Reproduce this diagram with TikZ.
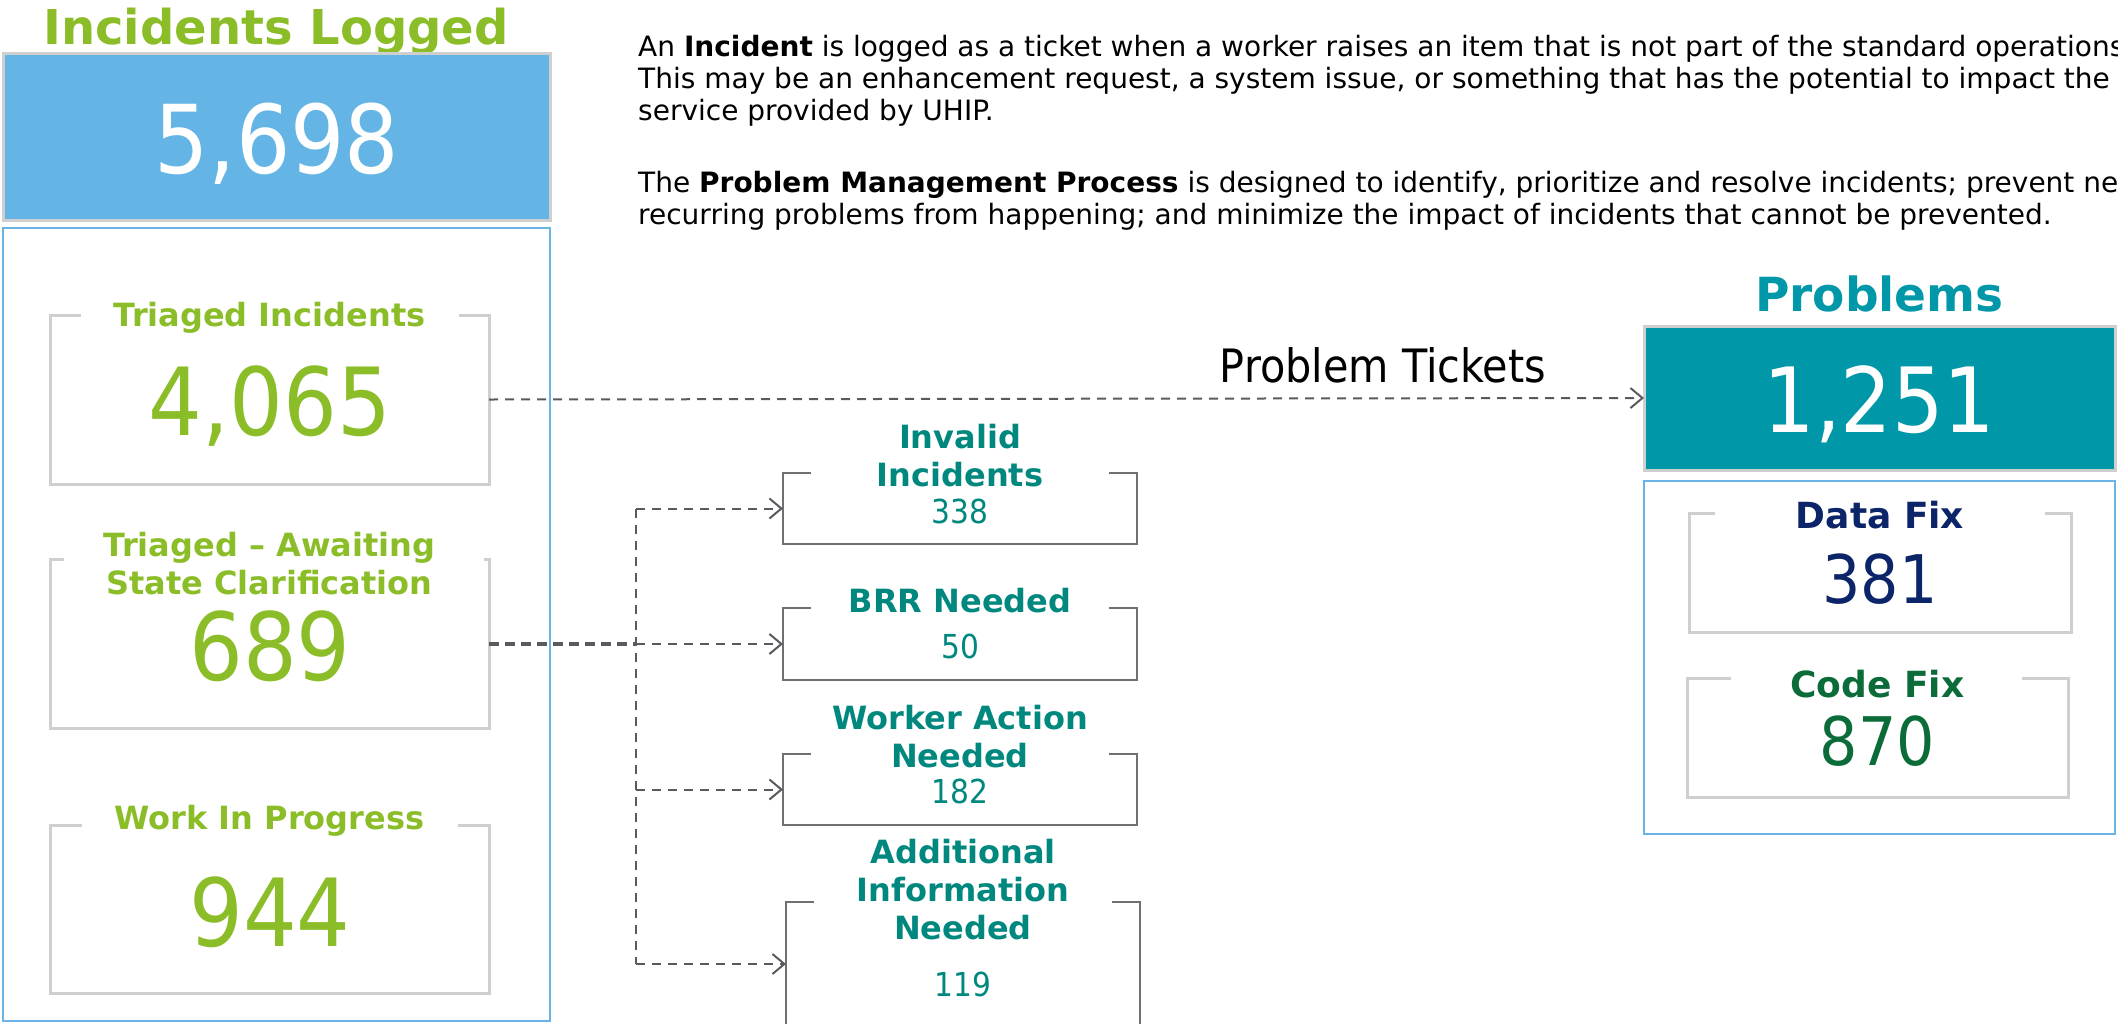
\documentclass[tikz,border=0pt]{standalone}
\usepackage{fontspec}
\setmainfont{DejaVu Sans}
\newfontfamily\numfont{DejaVu Sans}[FakeStretch=0.9]
\usepackage{tikz}
\usetikzlibrary{arrows.meta, positioning, calc}

\definecolor{lgreen}{HTML}{8BBD28}
\definecolor{skyfill}{HTML}{64B5E5}
\definecolor{skyline}{HTML}{6AB3E6}
\definecolor{bracketgray}{HTML}{CFCFCF}
\definecolor{boxgray}{HTML}{707070}
\definecolor{dashgray}{HTML}{595960}
\definecolor{tealtext}{HTML}{00877E}
\definecolor{tealfill}{HTML}{0097A8}
\definecolor{navy}{HTML}{0C2468}
\definecolor{fixgreen}{HTML}{0B6B39}

\newcommand{\fsz}[2]{\fontsize{#1}{#2}\selectfont}
% open-topped box: node, left gap, right gap, line style
\newcommand{\bracketbox}[4]{%
  \draw[#4] ($(#1.north west)+(#2,0)$) -- (#1.north west) -- (#1.south west)
    -- (#1.south east) -- (#1.north east) -- ($(#1.north east)+(-#3,0)$);}

\begin{document}
\begin{tikzpicture}[x=1pt,y=-1pt,
    cell/.style={inner sep=0, outer sep=0, minimum width=#1},
    greenhead/.style={text=lgreen, font=\bfseries\fsz{32}{38}, align=center, anchor=base},
    bignum/.style={text=lgreen, font=\numfont\fsz{94}{94}, inner sep=0, anchor=base},
    tealhead/.style={text=tealtext, font=\bfseries\fsz{32}{38}, align=center, anchor=base},
    smallnum/.style={text=tealtext, font=\numfont\fsz{33}{33}, inner sep=0, anchor=base},
    para/.style={font=\fsz{28}{32}, anchor=base west, inner sep=0},
    conn/.style={draw=dashgray, line width=2, dash pattern=on 9pt off 7pt,
      -{Straight Barb[length=12pt,width=20pt]}}]
\useasboundingbox (0,0) rectangle (2118,1023);

%% incidents logged
\node[text=lgreen, font=\bfseries\fsz{48}{56}, anchor=base] (logtitle) at (276,44) {Incidents Logged};
\node[cell=547, minimum height=167, fill=skyfill, draw=bracketgray, line width=3] (logged) at (276.5,136.5) {};
\node[text=white, font=\numfont\fsz{95}{95}, inner sep=0, anchor=base] (loggednum) at (277,173) {5,698};
\node[cell=547, minimum height=793, draw=skyline, line width=2] (incframe) at (276.5,624.5) {};

%% triaged boxes
\node[cell=439, minimum height=169] (ti) at (269.5,399.5) {};
\node[cell=439, minimum height=169] (ta) at (269.5,644) {};
\node[cell=439, minimum height=168] (wip) at (269.5,909) {};
\bracketbox{ti}{31}{30}{bracketgray, line width=3}
\bracketbox{ta}{14}{5}{bracketgray, line width=3}
\bracketbox{wip}{32}{31}{bracketgray, line width=3}
\node[greenhead] (tihead) at (269.5,326) {Triaged Incidents};
\node[greenhead] (tahead) at (269.5,594) {Triaged -- Awaiting\\State Clarification};
\node[greenhead] (wiphead) at (269.5,829) {Work In Progress};
\node[bignum] (tinum) at (270,435) {4,065};
\node[bignum] (tanum) at (270,680) {689};
\node[bignum] (wipnum) at (270,946) {944};

%% awaiting clarification split
\node[cell=354, minimum height=71] (inv) at (960,508.5) {};
\node[cell=354, minimum height=72] (brr) at (960,644) {};
\node[cell=354, minimum height=71] (wan) at (960,789.5) {};
\node[cell=354, minimum height=124] (add) at (963,964) {};
\foreach \b in {inv, brr, wan, add}
  \bracketbox{\b}{28}{28}{boxgray, line width=2.5};
\node[tealhead] (invhead) at (960,486) {Invalid\\Incidents};
\node[tealhead] (brrhead) at (960,612) {BRR Needed};
\node[tealhead] (wanhead) at (960,767) {Worker Action\\Needed};
\node[tealhead] (addhead) at (963,939) {Additional\\Information\\Needed};
\node[smallnum] (invnum) at (960,523) {338};
\node[smallnum] (brrnum) at (960,658) {50};
\node[smallnum] (wannum) at (960,803) {182};
\node[smallnum] (addnum) at (963,996) {119};

\coordinate (split) at (636,644);
\draw[conn, line width=4.5, dash pattern=on 10pt off 6pt, -] (ta.east) -- (split);
\draw[conn, -] (split |- inv.west) -- (split |- add.west);
\draw[conn] (split) -- (brr.west);
\foreach \b in {inv, wan, add}
  \draw[conn] (split |- \b.west) -- (\b.west);

%% problems
\node[text=tealfill, font=\bfseries\fsz{47}{56}, anchor=base] (probtitle) at (1879.5,311) {Problems};
\node[cell=471, minimum height=144, fill=tealfill, draw=bracketgray, line width=3] (prob) at (1879.5,398) {};
\node[text=white, font=\numfont\fsz{90}{90}, inner sep=0, anchor=base] (probnum) at (1879.5,432) {1,251};
\node[cell=471, minimum height=353, draw=skyline, line width=2] (probframe) at (1879.5,657.5) {};
\node[cell=382, minimum height=119] (dfix) at (1880,572.5) {};
\node[cell=381, minimum height=119] (cfix) at (1877.5,737.5) {};
\bracketbox{dfix}{26}{26}{bracketgray, line width=3}
\bracketbox{cfix}{44}{46}{bracketgray, line width=3}
\node[text=navy, font=\bfseries\fsz{36}{42}, anchor=base] (dfixhead) at (1880,528) {Data Fix};
\node[text=fixgreen, font=\bfseries\fsz{36}{42}, anchor=base] (cfixhead) at (1877.5,697) {Code Fix};
\node[text=navy, font=\numfont\fsz{67}{67}, inner sep=0, anchor=base] (dfixnum) at (1880,603) {381};
\node[text=fixgreen, font=\numfont\fsz{67}{67}, inner sep=0, anchor=base] (cfixnum) at (1877.5,765) {870};

\draw[conn] (ti.east) -- node[pos=.774, anchor=base, yshift=16pt, font=\numfont\fsz{46}{50}, inner sep=0] (ptlabel) {Problem Tickets} (prob.west);

%% explanation text
\node[para] (p1) at (638,56) {An \textbf{Incident} is logged as a ticket when a worker raises an item that is not part of the standard operations.};
\node[para] (p2) at (638,88) {This may be an enhancement request, a system issue, or something that has the potential to impact the};
\node[para] (p3) at (638,120) {service provided by UHIP.};
\node[para] (p4) at (638,192) {The \textbf{Problem Management Process} is designed to identify, prioritize and resolve incidents; prevent new};
\node[para] (p5) at (638,224) {recurring problems from happening; and minimize the impact of incidents that cannot be prevented.};

\end{tikzpicture}
\end{document}
